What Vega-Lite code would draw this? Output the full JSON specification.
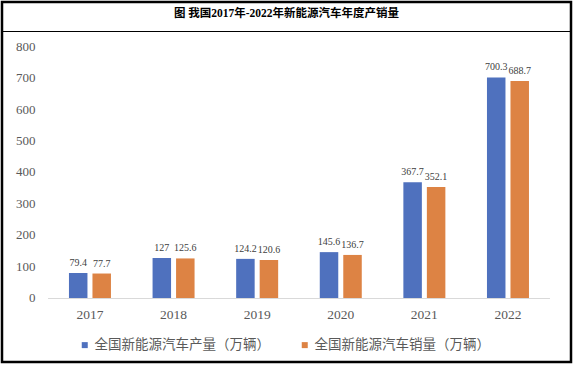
{
  "$schema": "https://vega.github.io/schema/vega-lite/v6.json",
  "width": 569,
  "height": 360,
  "autosize": {"type": "none"},
  "padding": {"left": 2, "top": 2, "right": 2, "bottom": 4},
  "background": "white",
  "config": {
    "view": {"stroke": "#000000", "strokeWidth": 2.5},
    "font": "Liberation Serif",
    "axisX": {"orient": "bottom", "offset": -64, "domain": false, "ticks": false, "grid": false, "labelPadding": 9, "title": null, "labelAngle": 0, "labelFont": "Liberation Serif", "labelFontSize": 13.5, "labelColor": "#595959"},
    "axisY": {"orient": "left", "offset": -35, "domain": false, "ticks": false, "grid": false, "labelPadding": 2, "title": null, "labelFont": "Liberation Serif", "labelFontSize": 13, "labelColor": "#595959"}
  },
  "title": {
    "text": "图  我国2017年-2022年新能源汽车年度产销量",
    "orient": "top",
    "anchor": "middle",
    "offset": -28,
    "baseline": "bottom",
    "font": "Liberation Serif, Noto Sans CJK SC",
    "fontSize": 11.5,
    "fontWeight": "bold",
    "color": "#000000"
  },
  "data": {
    "values": [
      {"year": "2017", "series": "全国新能源汽车产量（万辆）", "value": 79.4},
      {"year": "2017", "series": "全国新能源汽车销量（万辆）", "value": 77.7},
      {"year": "2018", "series": "全国新能源汽车产量（万辆）", "value": 127},
      {"year": "2018", "series": "全国新能源汽车销量（万辆）", "value": 125.6},
      {"year": "2019", "series": "全国新能源汽车产量（万辆）", "value": 124.2},
      {"year": "2019", "series": "全国新能源汽车销量（万辆）", "value": 120.6},
      {"year": "2020", "series": "全国新能源汽车产量（万辆）", "value": 145.6},
      {"year": "2020", "series": "全国新能源汽车销量（万辆）", "value": 136.7},
      {"year": "2021", "series": "全国新能源汽车产量（万辆）", "value": 367.7},
      {"year": "2021", "series": "全国新能源汽车销量（万辆）", "value": 352.1},
      {"year": "2022", "series": "全国新能源汽车产量（万辆）", "value": 700.3},
      {"year": "2022", "series": "全国新能源汽车销量（万辆）", "value": 688.7}
    ]
  },
  "encoding": {
    "x": {"field": "year", "type": "nominal", "title": null, "scale": {"paddingInner": 0, "paddingOuter": 0.403, "align": 0.685}},
    "y": {"type": "quantitative", "title": null, "scale": {"domain": [-203.2, 939.7], "nice": false, "zero": false}, "axis": {"values": [0, 100, 200, 300, 400, 500, 600, 700, 800]}}
  },
  "layer": [
    {
      "mark": {"type": "rect", "color": "#D9D9D9"},
      "encoding": {
        "y": {"datum": 0, "type": "quantitative", "title": null, "scale": {"domain": [-203.2, 939.7], "nice": false, "zero": false}, "axis": {"values": [0, 100, 200, 300, 400, 500, 600, 700, 800]}},
        "y2": {"datum": -3.1}
      }
    },
    {
      "mark": {"type": "bar"},
      "encoding": {
        "xOffset": {"field": "series", "type": "nominal", "scale": {"paddingInner": 0.213, "paddingOuter": 0.885}, "sort": ["全国新能源汽车产量（万辆）", "全国新能源汽车销量（万辆）"]},
        "y": {"field": "value", "type": "quantitative", "title": null, "scale": {"domain": [-203.2, 939.7], "nice": false, "zero": false}, "axis": {"values": [0, 100, 200, 300, 400, 500, 600, 700, 800]}},
        "y2": {"datum": 0},
        "color": {
          "field": "series", "type": "nominal",
          "scale": {"domain": ["全国新能源汽车产量（万辆）", "全国新能源汽车销量（万辆）"], "range": ["#4F71BE", "#DD8344"]},
          "legend": {"orient": "none", "legendX": 76, "legendY": 336, "direction": "horizontal", "title": null, "symbolType": "square", "symbolSize": 36, "symbolStrokeWidth": 0, "labelFont": "Noto Sans CJK SC", "labelFontSize": 13.5, "labelColor": "#595959", "labelOffset": 3, "labelLimit": 400, "columnPadding": 28, "padding": 0}
        }
      }
    },
    {
      "mark": {"type": "text", "baseline": "alphabetic", "dy": -7, "font": "Liberation Serif", "fontSize": 10, "color": "#404040"},
      "encoding": {
        "xOffset": {"field": "series", "type": "nominal", "scale": {"paddingInner": 0.213, "paddingOuter": 0.885}, "sort": ["全国新能源汽车产量（万辆）", "全国新能源汽车销量（万辆）"]},
        "y": {"field": "value", "type": "quantitative", "title": null, "scale": {"domain": [-203.2, 939.7], "nice": false, "zero": false}, "axis": {"values": [0, 100, 200, 300, 400, 500, 600, 700, 800]}},
        "text": {"field": "value", "type": "quantitative"}
      }
    },
    {
      "mark": {"type": "rule", "color": "#000000", "strokeWidth": 1},
      "encoding": {
        "x": null,
        "y": {"datum": 846, "type": "quantitative", "title": null, "scale": {"domain": [-203.2, 939.7], "nice": false, "zero": false}, "axis": {"values": [0, 100, 200, 300, 400, 500, 600, 700, 800]}}
      }
    }
  ]
}
